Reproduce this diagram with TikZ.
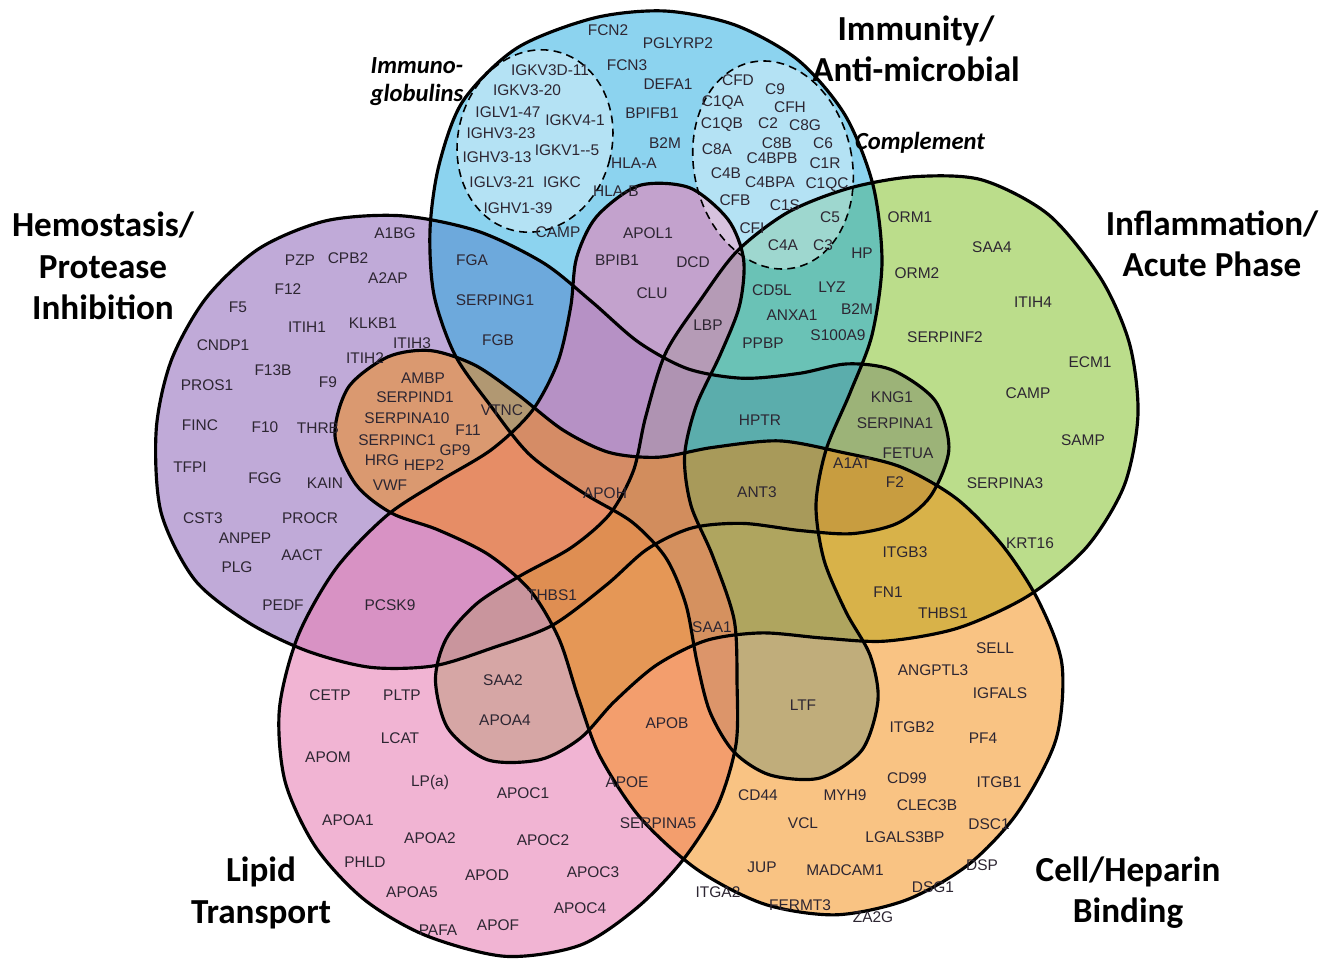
\documentclass[tikz,border=0pt]{standalone}
\usepackage{fontspec}
\setmainfont{Liberation Sans}
\newfontfamily\headfont{Carlito}
\definecolor{immunity}{RGB}{27,169,225}
\definecolor{inflammation}{RGB}{121,189,25}
\definecolor{cellbinding}{RGB}{245,137,9}
\definecolor{lipid}{RGB}{232,130,183}
\definecolor{hemostasis}{RGB}{131,87,179}
\definecolor{genetext}{RGB}{45,38,50}
\tikzstyle{every path}=[line width=1.8pt]
\tikzstyle{gene}=[font=\fontsize{8.8}{10}\selectfont, text=genetext, inner sep=0pt]
\tikzstyle{heading}=[font=\headfont\bfseries\fontsize{20}{23.5}\selectfont, align=center, inner sep=0pt]
\tikzstyle{subheading}=[font=\headfont\bfseries\itshape\fontsize{14}{16}\selectfont, align=center, inner sep=0pt]
\tikzstyle{subset}=[dash pattern=on 4.5pt off 3pt, line width=0.9pt]
% one set, drawn for the top one; the others are turned about the centre
\newcommand{\setoutline}{plot[smooth cycle] coordinates {(530,455) (490,405) (455,355) (434,295) (430,230) (439,165) (463,101) (517,48) (594,18) (665,11) (735,25) (798,60) (845,115) (873,185) (882,262) (872,335) (850,393) (826,450) (816,505) (824,560) (846,612) (870,655) (878,700) (862,750) (820,778) (770,775) (734,752) (710,712) (697,662) (686,605) (666,558) (632,522) (585,494)}}

\begin{document}
\begin{tikzpicture}[x=0.02cm, y=-0.02cm]
    \useasboundingbox (0,0) rectangle (1339,962);
    \fill[white] (0,0) rectangle (1339,962);

    % the five sets
    \foreach \ang/\dx/\dy/\col/\op in {-288/-40/15/hemostasis/0.5, -72/7/5/inflammation/0.5, 0/0/0/immunity/0.5, -216/-25/20/lipid/0.6, -139/-16/15/cellbinding/0.5}
        \fill[\col, fill opacity=\op, shift={(\dx,\dy)}, rotate around={\ang:(668,490)}] \setoutline;
    \fill[white, fill opacity=0.35, rotate around={-14:(535,141)}] (535,141) ellipse (77 and 92);
    \fill[white, fill opacity=0.35, rotate around={12:(773,165)}] (773,165) ellipse (79 and 105);
    \foreach \ang/\dx/\dy in {0/0/0, -72/7/5, -139/-16/15, -216/-25/20, -288/-40/15}
        \draw[black, shift={(\dx,\dy)}, rotate around={\ang:(668,490)}] \setoutline;
    \draw[subset, rotate around={-14:(535,141)}] (535,141) ellipse (77 and 92);
    \draw[subset, rotate around={12:(773,165)}] (773,165) ellipse (79 and 105);

    % headings
    \node[heading] (immhead) at (916,49) {Immunity/\\Anti-microbial};
    \node[heading] (hemhead) at (103,266) {Hemostasis/\\Protease\\Inhibition};
    \node[heading] (infhead) at (1212,244) {Inflammation/\\Acute Phase};
    \node[heading] (liphead) at (261,893) {Lipid\\Transport};
    \node[heading] (cellhead) at (1128,893) {Cell/Heparin\\Binding};
    \node[subheading] (ighead) at (417,82) {Immuno-\\globulins};
    \node[subheading] (comphead) at (920,143) {Complement};

    % immunity
    \foreach \x/\y/\g [count=\i] in {608/30/FCN2, 678/43/PGLYRP2, 627/65/FCN3, 668/84/DEFA1, 652/113/BPIFB1, 665/143/B2M, 634/163/HLA-A, 616/191/HLA-B, 558/232/CAMP}
        \node[gene] (imm\i) at (\x,\y) {\g};
    \foreach \x/\y/\g [count=\i] in {550/70/IGKV3D-11, 527/90/IGKV3-20, 508/112/IGLV1-47, 575/120/IGKV4-1, 501/133/IGHV3-23, 567/150/IGKV1-{}-5, 497/157/IGHV3-13, 502/182/IGLV3-21, 562/182/IGKC, 518/208/IGHV1-39}
        \node[gene] (ig\i) at (\x,\y) {\g};
    \foreach \x/\y/\g [count=\i] in {738/80/CFD, 775/89/C9, 723/103/C1QA, 790/107/CFH, 722/125/C1QB, 768/123/C2, 805/125/C8G, 717/149/C8A, 777/143/C8B, 823/143/C6, 726/173/C4B, 772/158/C4BPB, 825/163/C1R, 770/182/C4BPA, 827/185/C1QC, 735/200/CFB, 785/205/C1S, 752/228/CFI, 830/217/C5, 783/245/C4A, 823/245/C3}
        \node[gene] (comp\i) at (\x,\y) {\g};
    \foreach \x/\y/\g [count=\i] in {862/253/HP, 772/290/CD5L, 832/287/LYZ, 792/315/ANXA1, 857/309/B2M, 763/343/PPBP, 838/335/S100A9, 708/325/LBP, 760/420/HPTR, 757/492/ANT3}
        \node[gene] (immx\i) at (\x,\y) {\g};

    % hemostasis
    \foreach \x/\y/\g [count=\i] in {395/233/A1BG, 300/260/PZP, 348/258/CPB2, 388/278/A2AP, 288/289/F12, 238/307/F5, 307/327/ITIH1, 373/323/KLKB1, 412/343/ITIH3, 365/358/ITIH2, 223/345/CNDP1, 273/370/F13B, 328/382/F9, 207/385/PROS1, 200/425/FINC, 265/427/F10, 318/428/THRB, 190/467/TFPI, 265/478/FGG, 325/483/KAIN, 203/518/CST3, 310/518/PROCR, 245/538/ANPEP, 302/555/AACT, 237/567/PLG, 283/605/PEDF}
        \node[gene] (hem\i) at (\x,\y) {\g};
    \foreach \x/\y/\g [count=\i] in {472/260/FGA, 495/300/SERPING1, 498/340/FGB, 423/378/AMBP, 415/397/SERPIND1, 407/418/SERPINA10, 397/440/SERPINC1, 468/430/F11, 455/450/GP9, 382/460/HRG, 424/465/HEP2, 390/485/VWF, 502/410/VTNC, 605/493/APOH, 390/605/PCSK9}
        \node[gene] (hemx\i) at (\x,\y) {\g};

    % inflammation
    \foreach \x/\y/\g [count=\i] in {910/217/ORM1, 992/247/SAA4, 917/273/ORM2, 1033/302/ITIH4, 945/337/SERPINF2, 1090/362/ECM1, 1028/393/CAMP, 1083/440/SAMP, 1005/483/SERPINA3, 1030/543/KRT16}
        \node[gene] (inf\i) at (\x,\y) {\g};
    \foreach \x/\y/\g [count=\i] in {892/397/KNG1, 895/423/SERPINA1, 908/453/FETUA, 852/463/A1AT, 895/482/F2, 905/552/ITGB3, 888/592/FN1, 943/613/THBS1}
        \node[gene] (infx\i) at (\x,\y) {\g};

    % cell / heparin binding
    \foreach \x/\y/\g [count=\i] in {995/648/SELL, 933/670/ANGPTL3, 1000/693/IGFALS, 912/727/ITGB2, 983/738/PF4, 907/778/CD99, 999/782/ITGB1, 927/805/CLEC3B, 758/795/CD44, 845/795/MYH9, 803/823/VCL, 905/837/LGALS3BP, 989/824/DSC1, 762/867/JUP, 845/870/MADCAM1, 982/865/DSP, 933/887/DSG1, 718/892/ITGA2, 800/905/FERMT3, 873/917/ZA2G}
        \node[gene] (cell\i) at (\x,\y) {\g};
    \foreach \x/\y/\g [count=\i] in {803/705/LTF, 712/627/SAA1, 552/595/THBS1, 667/723/APOB, 627/782/APOE, 658/823/SERPINA5}
        \node[gene] (cellx\i) at (\x,\y) {\g};

    % lipid transport
    \foreach \x/\y/\g [count=\i] in {330/695/CETP, 402/695/PLTP, 400/738/LCAT, 328/757/APOM, 430/782/LP(a), 523/793/APOC1, 348/820/APOA1, 430/838/APOA2, 543/840/APOC2, 365/862/PHLD, 487/875/APOD, 593/872/APOC3, 412/892/APOA5, 580/908/APOC4, 438/930/PAFA, 498/925/APOF}
        \node[gene] (lip\i) at (\x,\y) {\g};
    \foreach \x/\y/\g [count=\i] in {503/680/SAA2, 505/720/APOA4, 648/233/APOL1, 617/260/BPIB1, 693/262/DCD, 652/293/CLU}
        \node[gene] (lipx\i) at (\x,\y) {\g};
\end{tikzpicture}
\end{document}
